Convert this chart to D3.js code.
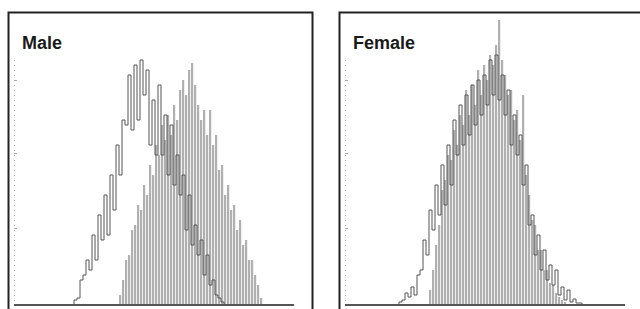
<!DOCTYPE html>
<html>
<head>
  <meta charset="utf-8">
  <title>Male / Female histograms</title>
  <script src="https://d3js.org/d3.v7.min.js"></script>
  <style>
    body { margin: 0; background: #fff; }
    .title { font: bold 18px "Liberation Sans", Arial, sans-serif; fill: #1a1a1a; }
    .bar { fill: #b0b0b0; }
    .outline { fill: none; stroke: #555; stroke-width: 1; }
    .yaxis line { stroke: #aaa; }
    .yaxis path { display: none; }
  </style>
</head>
<body>
<script>
  // bin index where each series starts, then counts per bin
  var nBins = 96;
  var maleFillStart = 35;
  var maleFill = [10,25,45,50,75,80,100,95,120,110,140,130,160,150,180,165,190,170,200,185,
                  215,225,210,235,242,220,200,185,195,170,195,160,170,135,140,110,120,95,100,75,
                  85,60,65,45,45,30,20,7];
  var maleLineStart = 20;
  var maleLine = [5,7,25,30,45,35,70,45,90,65,110,70,130,95,160,130,185,180,230,175,
                  240,185,245,210,235,160,205,150,220,150,190,130,180,120,150,110,130,75,110,60,
                  80,50,65,30,50,20,25,10,7,3];
  var femaleFillStart = 28;
  var femaleFill = [15,35,60,80,115,125,150,145,175,160,190,180,215,190,220,200,235,210,240,225,
                    250,240,260,285,245,230,210,215,185,195,165,210,130,110,85,80,55,55,35,35,
                    22,20,12,8,5,3];
  var femaleLineStart = 18;
  var femaleLine = [3,5,12,8,18,10,30,35,65,50,95,75,120,90,140,100,160,120,185,150,
                    200,160,210,170,220,180,225,190,230,200,245,210,250,205,230,190,215,160,190,150,
                    170,120,140,80,90,50,70,35,55,25,40,20,35,10,18,5,15,3,6,2,2];

  var panels = [
    { title: "Male",   left: 8,   plot: [14, 302],  fillStart: maleFillStart,   fill: maleFill,   lineStart: maleLineStart,   line: maleLine },
    { title: "Female", left: 339, plot: [345, 633], fillStart: femaleFillStart, fill: femaleFill, lineStart: femaleLineStart, line: femaleLine }
  ];

  var W = 640, H = 309;
  var svg = d3.select("body").append("svg")
      .attr("width", W)
      .attr("height", H);

  var y = d3.scaleLinear().domain([0, 290]).range([305, 15]);

  panels.forEach(function(p) {
    var g = svg.append("g");
    var x = d3.scaleLinear().domain([0, nBins]).range(p.plot);

    // frame (open at bottom / right edge of picture)
    g.append("rect")
        .attr("x", p.left + 0.5)
        .attr("y", 12.5)
        .attr("width", 304)
        .attr("height", 320)
        .attr("fill", "none")
        .attr("stroke", "#222")
        .attr("stroke-width", 2);

    g.append("text")
        .attr("class", "title")
        .attr("x", p.left + 14)
        .attr("y", 49)
        .text(p.title);

    // dotted minor ticks on the left edge
    g.append("g")
        .attr("class", "yaxis")
        .attr("transform", "translate(" + (p.left + 6) + ",0)")
        .call(d3.axisRight(y.copy().domain([0, 245]).range([305, 60])).ticks(60).tickSize(1).tickFormat(""));
    g.append("g")
        .attr("class", "yaxis")
        .attr("transform", "translate(" + (p.left + 6) + ",0)")
        .call(d3.axisRight(y.copy().domain([0, 225]).range([305, 80])).tickValues([77, 152, 225]).tickSize(3).tickFormat(""));

    var fillBins = p.fill.map(function(v, i) { return { bin: p.fillStart + i, value: v }; });
    g.selectAll("rect.bar")
        .data(fillBins)
        .enter().append("rect")
          .attr("class", "bar")
          .attr("x", function(d) { return x(d.bin); })
          .attr("y", function(d) { return y(d.value); })
          .attr("width", x(1) - x(0) - 0.8)
          .attr("height", function(d) { return y(0) - y(d.value); });

    // step outline of second distribution
    var pts = [{ b: p.lineStart, v: 0 }];
    p.line.forEach(function(v, i) {
      pts.push({ b: p.lineStart + i, v: v });
      pts.push({ b: p.lineStart + i + 1, v: v });
    });
    pts.push({ b: p.lineStart + p.line.length, v: 0 });
    g.append("path")
        .datum(pts)
        .attr("class", "outline")
        .attr("d", d3.line().x(function(d) { return x(d.b); }).y(function(d) { return y(d.v); }));

    // baseline
    g.append("line")
        .attr("x1", p.plot[0])
        .attr("x2", p.plot[1] - 8)
        .attr("y1", y(0))
        .attr("y2", y(0))
        .attr("stroke", "#555")
        .attr("stroke-width", 2);
  });
</script>
</body>
</html>
